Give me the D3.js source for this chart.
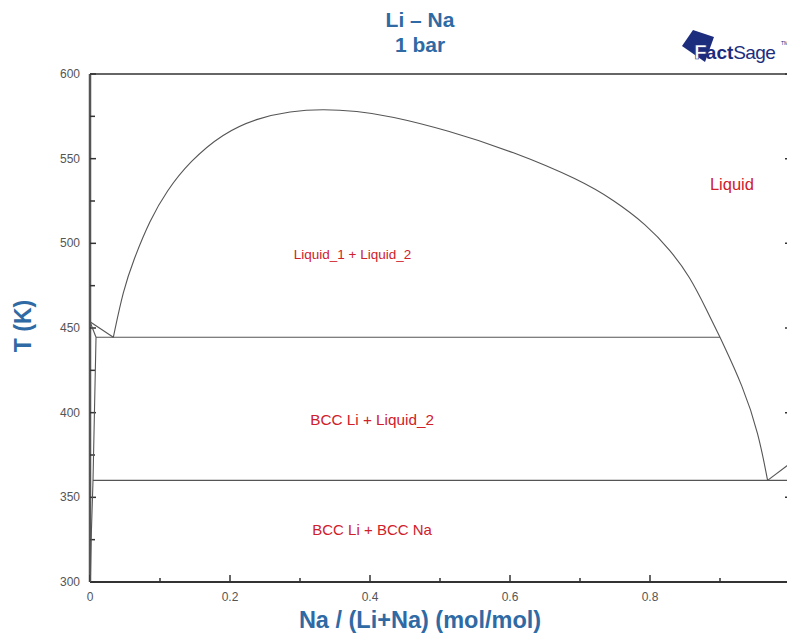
<!DOCTYPE html>
<html>
<head>
<meta charset="utf-8">
<script src="https://cdn.jsdelivr.net/npm/d3@7"></script>
<style>
  body { margin: 0; background: #fff; }
  text { font-family: "Liberation Sans", Arial, sans-serif; }
</style>
</head>
<body>
<div id="chart"></div>
<script>
// phase boundaries, [x Na, T K]
const gapCurve = [[0.0333,444.5],[0.0476,472.4],[0.062,490],[0.0857,513.8],[0.1095,531],[0.1429,548.5],
  [0.19,565],[0.238,573.8],[0.286,578.1],[0.333,579.3],[0.381,578.1],[0.4286,575.2],[0.5095,566.9],
  [0.605,554.1],[0.7,537.4],[0.748,525.6],[0.795,511],[0.829,496],[0.857,480.3],[0.881,460.6],[0.9,444.5]];
const naLiquidus = [[0.9,444.5],[0.933,415.4],[0.955,387.8],[0.968,360]];
const naSide = [[0.968,360],[1.0,370]];
const liLiquidus = [[0.0,453.7],[0.0333,444.5]];
const liSolidus = [[0.0,453.7],[0.0086,444.5]];
const liSolvus = [[0.0086,444.5],[0.0043,360],[0.002,330],[0.0005,300]];
const monotectic = [[0.0086,444.5],[0.9,444.5]];
const eutectic = [[0.0043,360],[1.0,360]];
const smoothBoundaries = [gapCurve, naLiquidus];
const straightBoundaries = [naSide, liLiquidus, liSolidus, liSolvus, monotectic, eutectic];

const regionLabels = [
  {text: "Liquid", x: 0.917, T: 531.5, size: 16.5},
  {text: "Liquid_1 + Liquid_2", x: 0.375, T: 491, size: 13.5},
  {text: "BCC Li + Liquid_2", x: 0.403, T: 392.5, size: 15.3},
  {text: "BCC Li + BCC Na", x: 0.403, T: 327.5, size: 15}
];
const xTicks = [0, 0.1, 0.2, 0.3, 0.4, 0.5, 0.6, 0.7, 0.8, 0.9, 1.0];
const xTickLabels = [0, 0.2, 0.4, 0.6, 0.8];
const yTicks = [300, 325, 350, 375, 400, 425, 450, 475, 500, 525, 550, 575, 600];
const yTickLabels = [300, 350, 400, 450, 500, 550, 600];

const W = 787, H = 633;
const blue = "#2f6aa4", red = "#d0202a", axisCol = "#333", navy = "#1d2d7e";
const svg = d3.select("#chart").append("svg").attr("width", W).attr("height", H);

const x = d3.scaleLinear().domain([0, 1]).range([90, 790]);
const y = d3.scaleLinear().domain([300, 600]).range([582, 74]);

// frame
svg.append("line").attr("x1", x(0)).attr("x2", x(1)).attr("y1", y(600)).attr("y2", y(600))
  .attr("stroke", axisCol).attr("stroke-width", 1.5);
svg.append("line").attr("x1", x(0)).attr("x2", x(1)).attr("y1", y(300)).attr("y2", y(300))
  .attr("stroke", axisCol).attr("stroke-width", 2);
svg.append("line").attr("x1", x(0)).attr("x2", x(0)).attr("y1", y(300)).attr("y2", y(600))
  .attr("stroke", "#555").attr("stroke-width", 2.5);
svg.append("line").attr("x1", x(1)).attr("x2", x(1)).attr("y1", y(300)).attr("y2", y(600))
  .attr("stroke", axisCol).attr("stroke-width", 1.5);

// ticks
svg.selectAll(".xt").data(xTicks).join("line").attr("class", "xt")
  .attr("x1", d => x(d)).attr("x2", d => x(d))
  .attr("y1", y(300)).attr("y2", (d, i) => y(300) - (i % 2 ? 4 : 7))
  .attr("stroke", axisCol).attr("stroke-width", 1.5);
svg.selectAll(".yt").data(yTicks).join("line").attr("class", "yt")
  .attr("x1", x(0)).attr("x2", (d, i) => x(0) + (i % 2 ? 5 : 6))
  .attr("y1", d => y(d)).attr("y2", d => y(d))
  .attr("stroke", axisCol).attr("stroke-width", 1.5);
svg.selectAll(".ytr").data(yTickLabels).join("line").attr("class", "ytr")
  .attr("x1", x(1)).attr("x2", x(1) - 5)
  .attr("y1", d => y(d)).attr("y2", d => y(d))
  .attr("stroke", axisCol).attr("stroke-width", 1.5);

svg.selectAll(".xl").data(xTickLabels).join("text").attr("class", "xl")
  .attr("x", d => x(d)).attr("y", 601).attr("text-anchor", "middle")
  .attr("font-size", 12).attr("fill", "#555").text(d => d);
svg.selectAll(".yl").data(yTickLabels).join("text").attr("class", "yl")
  .attr("x", 80).attr("y", d => y(d) + 4).attr("text-anchor", "end")
  .attr("font-size", 12).attr("fill", "#555").text(d => d);

// phase boundaries
const smooth = d3.line().x(d => x(d[0])).y(d => y(d[1])).curve(d3.curveBasis);
const straight = d3.line().x(d => x(d[0])).y(d => y(d[1]));
svg.selectAll(".pbs").data(smoothBoundaries).join("path").attr("class", "pbs")
  .attr("d", smooth).attr("fill", "none").attr("stroke", "#555").attr("stroke-width", 1.1);
svg.selectAll(".pb").data(straightBoundaries).join("path").attr("class", "pb")
  .attr("d", straight).attr("fill", "none").attr("stroke", "#555").attr("stroke-width", 1.1);

// region labels
svg.selectAll(".rl").data(regionLabels).join("text").attr("class", "rl")
  .attr("x", d => x(d.x)).attr("y", d => y(d.T)).attr("text-anchor", "middle")
  .attr("font-size", d => d.size).attr("fill", red).text(d => d.text);

// titles
svg.append("text").attr("x", 420).attr("y", 27).attr("text-anchor", "middle")
  .attr("font-size", 21).attr("font-weight", "bold").attr("fill", blue).text("Li \u2013 Na");
svg.append("text").attr("x", 420).attr("y", 52).attr("text-anchor", "middle")
  .attr("font-size", 21).attr("font-weight", "bold").attr("fill", blue).text("1 bar");
svg.append("text").attr("x", 420).attr("y", 628).attr("text-anchor", "middle")
  .attr("font-size", 23.5).attr("font-weight", "bold").attr("fill", blue).text("Na / (Li+Na) (mol/mol)");
svg.append("text").attr("transform", "translate(31,326) rotate(-90)").attr("text-anchor", "middle")
  .attr("font-size", 23).attr("font-weight", "bold").attr("fill", blue).text("T (K)");

// FactSage logo
svg.append("path").attr("d", "M682,46 L693,30 L714,37 L705,62 Z").attr("fill", navy);
const lt = svg.append("text").attr("x", 694).attr("y", 59).attr("fill", navy);
lt.append("tspan").attr("font-size", 21).attr("font-weight", "bold").attr("fill", "#fff")
  .attr("stroke", navy).attr("stroke-width", 0.6).text("F");
lt.append("tspan").attr("font-size", 19).attr("font-weight", "bold").attr("dx", -1).text("act");
lt.append("tspan").attr("font-size", 19).attr("letter-spacing", -0.6).text("Sage");
svg.append("text").attr("x", 781).attr("y", 45).attr("font-size", 5).attr("fill", navy).text("TM");
</script>
</body>
</html>
